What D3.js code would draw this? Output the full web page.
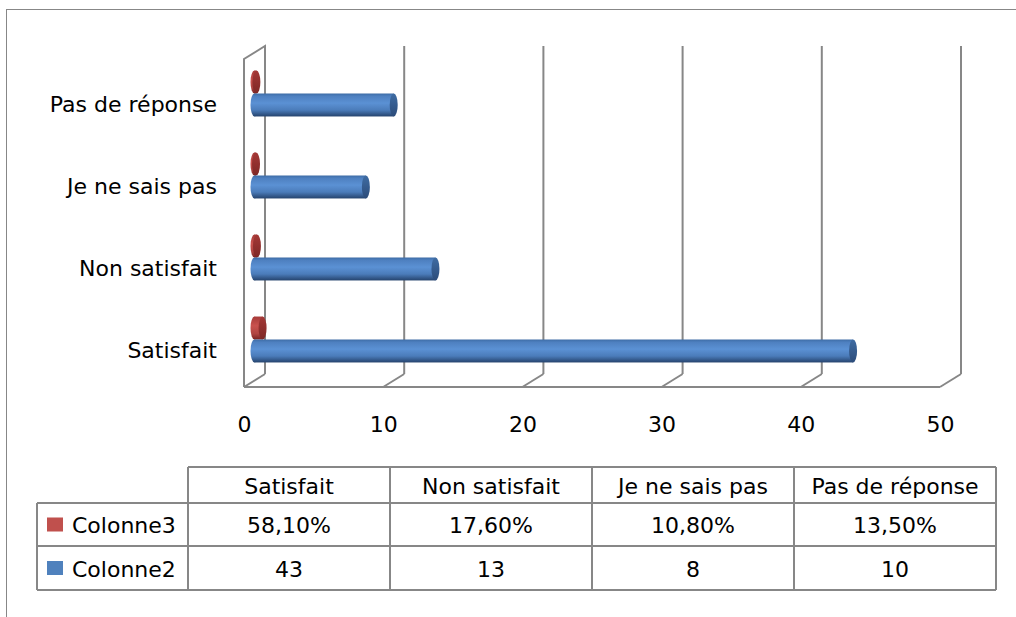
<!DOCTYPE html>
<html>
<head>
<meta charset="utf-8">
<script src="https://cdn.jsdelivr.net/npm/d3@7"></script>
<style>
  html, body { margin: 0; padding: 0; background: #fff; }
  svg { display: block; font-family: "DejaVu Sans", sans-serif; }
</style>
</head>
<body>
<svg id="chart" width="1016" height="617"></svg>
<script>
const categories = ["Satisfait", "Non satisfait", "Je ne sais pas", "Pas de réponse"];
const colonne2 = [43, 13, 8, 10];
const colonne3 = [0.581, 0.176, 0.108, 0.135];
const colonne3Labels = ["58,10%", "17,60%", "10,80%", "13,50%"];
const colonne2Labels = ["43", "13", "8", "10"];
const xTicks = [0, 10, 20, 30, 40, 50];
const seriesNames = ["Colonne3", "Colonne2"];

const svg = d3.select("#chart");
const grey = "#878787";
const depth = { dx: -21, dy: 13 };

// back wall scales
const xBack = d3.scaleLinear().domain([0, 50]).range([265, 961]);
const xFront = v => xBack(v) + depth.dx;
const xMid = v => xBack(v) + depth.dx / 2;
const wallTop = 46, wallBottom = 374;

// outer frame
svg.append("rect")
  .attr("x", 6.5).attr("y", 9.5).attr("width", 1030).attr("height", 640)
  .attr("fill", "none").attr("stroke", grey).attr("stroke-width", 1);

const defs = svg.append("defs");
function cylGradient(id, stops) {
  const g = defs.append("linearGradient").attr("id", id)
    .attr("x1", 0).attr("y1", 0).attr("x2", 0).attr("y2", 1);
  stops.forEach(([o, c]) => g.append("stop").attr("offset", o).attr("stop-color", c));
}
cylGradient("blueBody", [[0, "#3d6ca6"], [0.12, "#4e80c0"], [0.42, "#5b91d4"], [0.72, "#4b7cba"], [1, "#25436d"]]);
cylGradient("blueCap", [[0, "#3f6ca3"], [1, "#2c4c7a"]]);
cylGradient("redBody", [[0, "#a63b39"], [0.4, "#c9524e"], [0.75, "#b04542"], [1, "#782422"]]);
cylGradient("redCap", [[0, "#a43836"], [1, "#7e2826"]]);

const grid = svg.append("g");
// side wall
grid.append("path")
  .attr("d", `M${xFront(0)},${wallBottom + depth.dy} V${wallTop + depth.dy} L${xBack(0)},${wallTop} V${wallBottom}`)
  .attr("fill", "none").attr("stroke", grey).attr("stroke-width", 2);
// back gridlines
grid.selectAll("line.grid").data(xTicks).join("line")
  .attr("class", "grid")
  .attr("x1", d => xBack(d)).attr("x2", d => xBack(d))
  .attr("y1", wallTop).attr("y2", wallBottom)
  .attr("stroke", grey).attr("stroke-width", 2);
// floor diagonals
grid.selectAll("line.diag").data(xTicks).join("line")
  .attr("class", "diag")
  .attr("x1", d => xBack(d)).attr("x2", d => xFront(d))
  .attr("y1", wallBottom).attr("y2", wallBottom + depth.dy)
  .attr("stroke", grey).attr("stroke-width", 2);
// floor front edge
grid.append("line")
  .attr("x1", xFront(0)).attr("x2", xFront(50))
  .attr("y1", wallBottom + depth.dy).attr("y2", wallBottom + depth.dy)
  .attr("stroke", grey).attr("stroke-width", 2);

// category bands (mid depth)
const y = d3.scaleBand()
  .domain(categories.slice().reverse())
  .range([wallTop + depth.dy / 2, wallBottom + depth.dy / 2])
  .paddingInner(0.44).paddingOuter(0.22);
const ySeries = d3.scaleBand().domain(seriesNames).range([0, y.bandwidth()]);

const rx = 4;
const bars = [];
categories.forEach((c, i) => {
  bars.push({ cat: c, series: "Colonne3", value: colonne3[i], body: "redBody", cap: "redCap" });
  bars.push({ cat: c, series: "Colonne2", value: colonne2[i], body: "blueBody", cap: "blueCap" });
});

const barG = svg.append("g").selectAll("g").data(bars).join("g")
  .attr("transform", d => `translate(0,${y(d.cat) + ySeries(d.series)})`);
const h = ySeries.bandwidth();
barG.append("ellipse")
  .attr("cx", xMid(0)).attr("cy", h / 2).attr("rx", rx).attr("ry", h / 2)
  .attr("fill", d => `url(#${d.body})`);
barG.append("rect")
  .attr("x", xMid(0)).attr("y", 0)
  .attr("width", d => xMid(d.value) - xMid(0)).attr("height", h)
  .attr("fill", d => `url(#${d.body})`);
barG.append("ellipse")
  .attr("cx", d => xMid(d.value)).attr("cy", h / 2).attr("rx", rx).attr("ry", h / 2)
  .attr("fill", d => `url(#${d.cap})`);

// category labels
svg.append("g").selectAll("text").data(categories).join("text")
  .attr("x", 217)
  .attr("y", d => y(d) + y.bandwidth() / 2 + 11)
  .attr("text-anchor", "end")
  .attr("dominant-baseline", "central")
  .attr("font-size", 22)
  .attr("fill", "#000")
  .text(d => d);

// value axis labels
const xAxisScale = d3.scaleLinear().domain([0, 50]).range([xFront(0), xFront(50)]);
const axisG = svg.append("g")
  .attr("transform", `translate(0,${wallBottom + depth.dy})`)
  .call(d3.axisBottom(xAxisScale).tickValues(xTicks).tickSize(0).tickPadding(29).tickFormat(d3.format("d")));
axisG.select(".domain").remove();
axisG.selectAll("text")
  .attr("font-family", "DejaVu Sans, sans-serif")
  .attr("font-size", 22)
  .attr("fill", "#000");

// data table
const col = d3.scaleBand().domain(categories).range([188, 996]);
const rows = [467, 503, 546, 590];
const tableLeft = 37;
const tbl = svg.append("g").attr("stroke", grey).attr("stroke-width", 2).attr("fill", "none");
tbl.append("line").attr("x1", col.range()[0]).attr("x2", col.range()[1]).attr("y1", rows[0]).attr("y2", rows[0]);
[rows[1], rows[2], rows[3]].forEach(ry =>
  tbl.append("line").attr("x1", tableLeft).attr("x2", col.range()[1]).attr("y1", ry).attr("y2", ry));
tbl.append("line").attr("x1", tableLeft).attr("x2", tableLeft).attr("y1", rows[1]).attr("y2", rows[3]);
categories.forEach(c =>
  tbl.append("line").attr("x1", col(c)).attr("x2", col(c)).attr("y1", rows[0]).attr("y2", rows[3]));
tbl.append("line").attr("x1", col.range()[1]).attr("x2", col.range()[1]).attr("y1", rows[0]).attr("y2", rows[3]);

const cellText = (x, yy, t, anchor) => svg.append("text")
  .attr("x", x).attr("y", yy)
  .attr("text-anchor", anchor || "middle")
  .attr("dominant-baseline", "central")
  .attr("font-size", 22).attr("fill", "#000")
  .text(t);

categories.forEach((c, i) => {
  const cx = col(c) + col.bandwidth() / 2;
  cellText(cx, (rows[0] + rows[1]) / 2 + 1, c);
  cellText(cx, (rows[1] + rows[2]) / 2 + 1, colonne3Labels[i]);
  cellText(cx, (rows[2] + rows[3]) / 2 + 1, colonne2Labels[i]);
});

const legendColors = { Colonne3: "#c0504d", Colonne2: "#4f81bd" };
seriesNames.forEach((s, i) => {
  const cy = (rows[i + 1] + rows[i + 2]) / 2;
  svg.append("rect").attr("x", 47).attr("y", cy - 7).attr("width", 16).attr("height", 14)
    .attr("fill", legendColors[s]);
  cellText(72, cy + 1, s, "start");
});
</script>
</body>
</html>
